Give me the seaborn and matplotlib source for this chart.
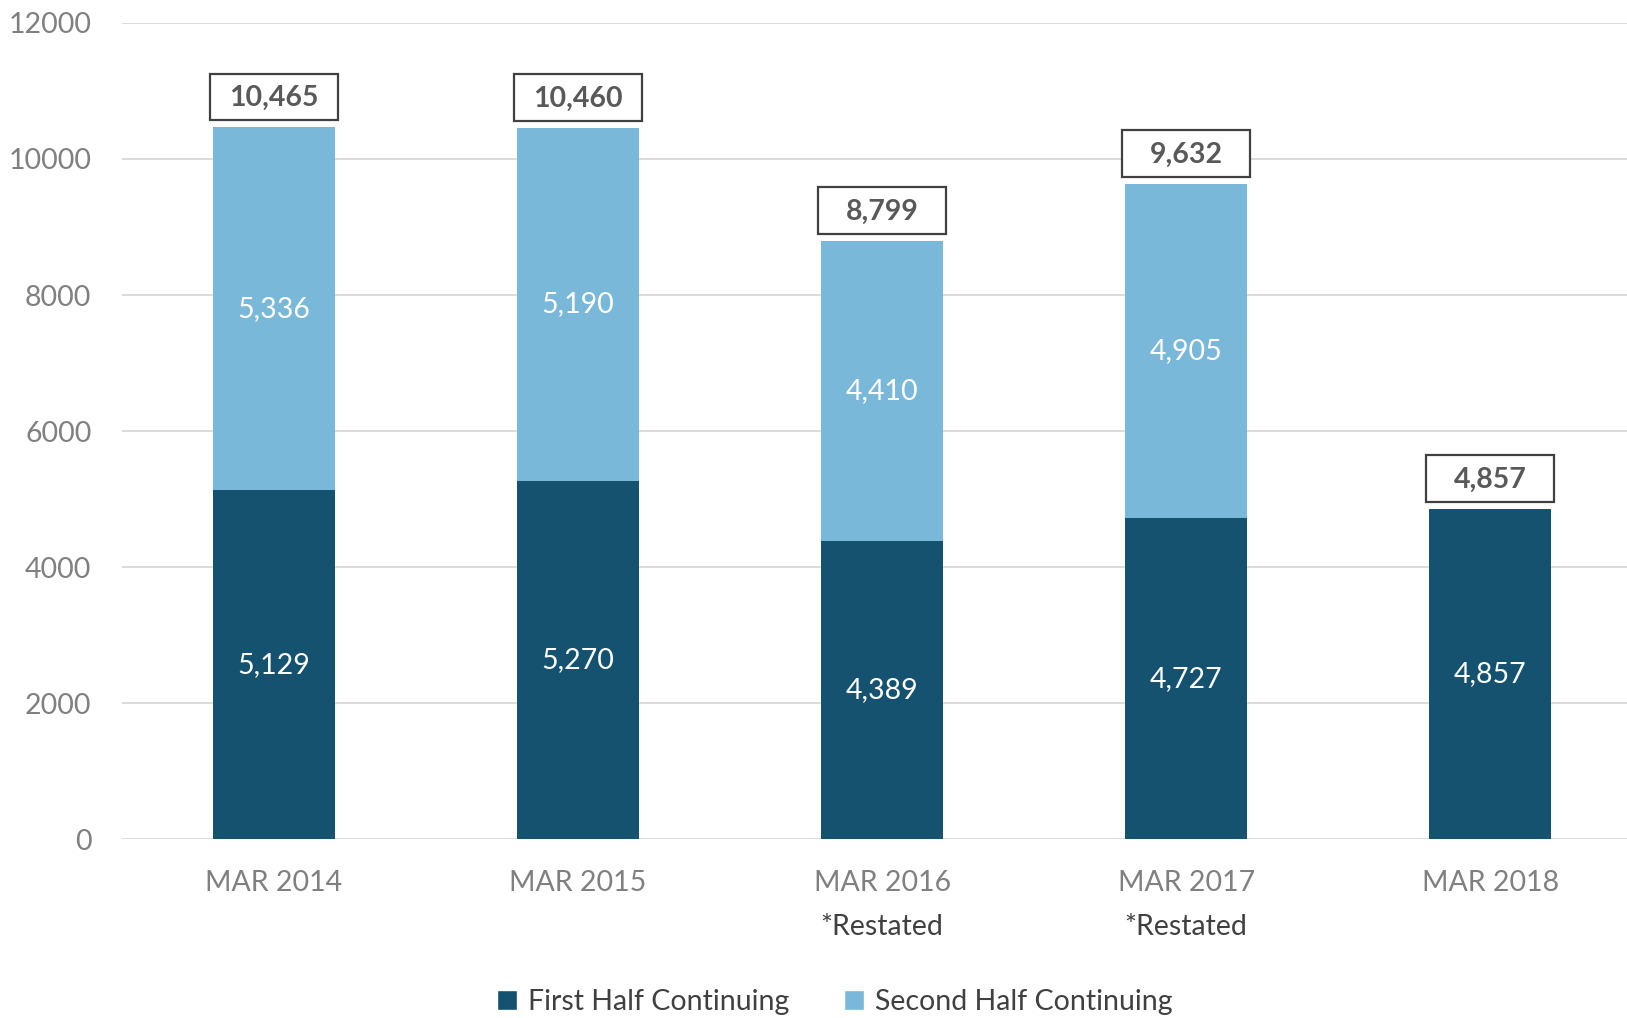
import matplotlib
matplotlib.use("Agg")
import matplotlib.pyplot as plt
from matplotlib.patches import Rectangle, Patch
import seaborn as sns
import pandas as pd

periods = ["MAR 2014", "MAR 2015", "MAR 2016", "MAR 2017", "MAR 2018"]
first_half = [5129, 5270, 4389, 4727, 4857]
second_half = [5336, 5190, 4410, 4905, 0]
totals = [10465, 10460, 8799, 9632, 4857]
notes = ["", "", "*Restated", "*Restated", ""]
y_ticks = [0, 2000, 4000, 6000, 8000, 10000, 12000]

DARK = "#145270"
LIGHT = "#7AB8D9"
FS = 20.5

sns.set_theme(style="white")
plt.rcParams["font.family"] = ["Lato", "DejaVu Sans"]

df = pd.DataFrame({"period": periods, "first": first_half,
                   "second": second_half, "total": totals})

fig = plt.figure(figsize=(16.27, 10.18), dpi=100)
ax = fig.add_axes([0.075, 0.1754, 0.925, 0.8022])

# stacked bars: full height in light, first half overdrawn in dark
sns.barplot(data=df, x="period", y="total", color=LIGHT, width=0.4,
            saturation=1, linewidth=0, ax=ax, zorder=2)
sns.barplot(data=df, x="period", y="first", color=DARK, width=0.4,
            saturation=1, linewidth=0, ax=ax, zorder=3)

ax.set_ylim(0, 12000)
ax.set_xlim(-0.5, 4.45)
ax.set_yticks(y_ticks)
ax.set_yticklabels([str(v) for v in y_ticks])
ax.yaxis.grid(True, color="#D9D9D9", linewidth=1.3, zorder=0)
ax.set_axisbelow(True)
for s in ax.spines.values():
    s.set_visible(False)
ax.set_xlabel("")
ax.set_ylabel("")
ax.tick_params(axis="y", length=0, pad=22, labelsize=FS, labelcolor="#808080")
ax.tick_params(axis="x", length=0, pad=22, labelsize=FS, labelcolor="#808080")

# segment values
for i, (f, s) in enumerate(zip(first_half, second_half)):
    ax.text(i, f / 2, f"{f:,}", ha="center", va="center",
            color="white", fontsize=FS, zorder=5)
    if s > 0:
        ax.text(i, f + s / 2, f"{s:,}", ha="center", va="center",
                color="white", fontsize=FS, zorder=5)

# boxed totals above each bar
box_w = 0.42
box_h = 690
gap = 100
for i, t in enumerate(totals):
    y0 = t + gap
    ax.add_patch(Rectangle((i - box_w / 2, y0), box_w, box_h,
                           facecolor="white", edgecolor="#404040",
                           linewidth=1.6, zorder=4, clip_on=False))
    ax.text(i, y0 + box_h / 2 - 20, f"{t:,}", ha="center", va="center",
            color="#595959", fontsize=FS, fontweight="bold", zorder=5)

# notes under category labels
for i, n in enumerate(notes):
    if n:
        ax.text(i, -1290, n, ha="center", va="center", color="#404040",
                fontsize=FS, clip_on=False)

handles = [Patch(facecolor=DARK, label="First Half Continuing"),
           Patch(facecolor=LIGHT, label="Second Half Continuing")]
fig.legend(handles=handles, loc="center", bbox_to_anchor=(0.513, 0.016),
           ncol=2, frameon=False, fontsize=FS, labelcolor="#404040",
           handlelength=0.7, handleheight=0.7, handletextpad=0.4,
           columnspacing=1.9, borderpad=0)

fig.savefig("out.png", dpi=100)
